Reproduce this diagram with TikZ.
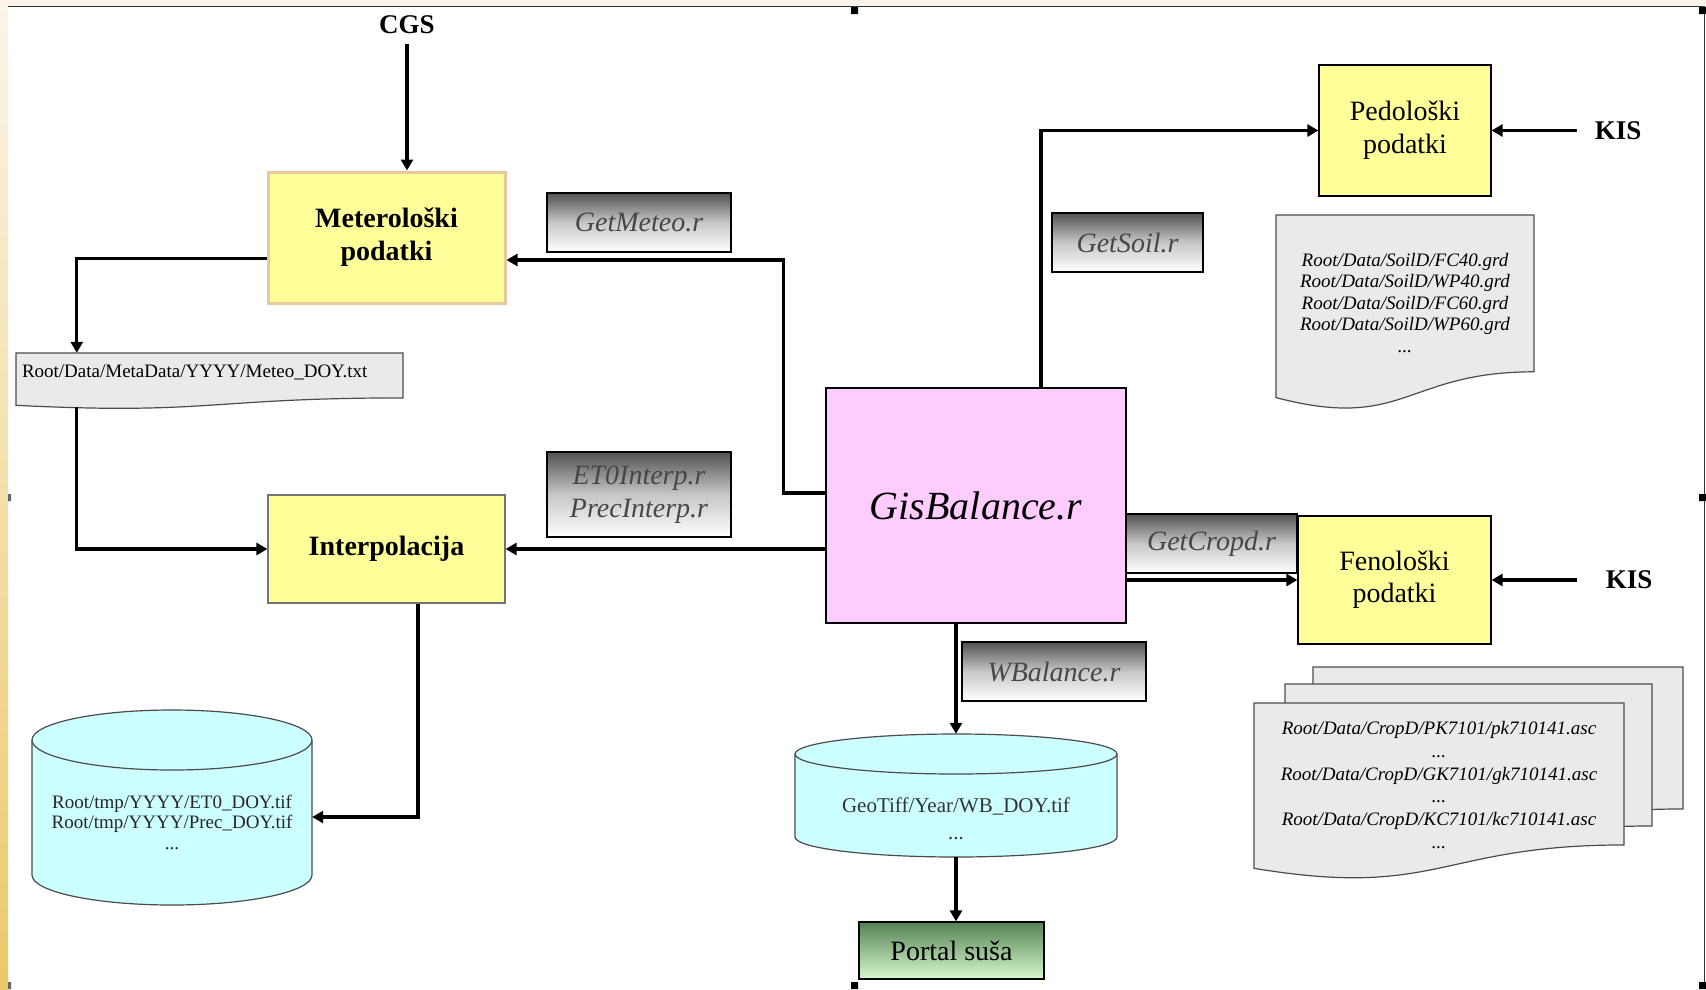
\documentclass[tikz,border=0pt]{standalone}
\usepackage{fontspec}
\setmainfont{Liberation Serif}
\usepackage{tikz}
\usetikzlibrary{arrows.meta,positioning,calc}
\definecolor{boxyellow}{RGB}{255,255,153}
\definecolor{boxpink}{RGB}{255,204,255}
\definecolor{boxcyan}{RGB}{204,255,255}
\definecolor{docgray}{RGB}{234,234,234}
\definecolor{meteoborder}{RGB}{232,200,160}
\definecolor{portaldark}{RGB}{85,130,85}
\definecolor{portallight}{RGB}{215,250,205}
\definecolor{stripbeige}{RGB}{250,245,232}
\definecolor{stripgold}{RGB}{236,201,106}

\newcommand{\docshape}[4]{%
  \path[docline] (#1,#2) -- (#3,#2) -- (#3,{#2+0.802*(#4-#2)})
    .. controls ({(#1+#3)/2},{#2+0.802*(#4-#2)}) and ({(#1+#3)/2},{#2+1.1075*(#4-#2)})
    .. (#1,{#2+0.934*(#4-#2)}) -- cycle;}
\newcommand{\cylshape}[5]{%
  \path[cylline] ({#1-#4},{#2+#5}) -- ({#1-#4},{#3-#5})
    arc[start angle=180,end angle=360,x radius=#4pt,y radius=#5pt]
    -- ({#1+#4},{#2+#5}) arc[start angle=0,end angle=180,x radius=#4pt,y radius=#5pt] -- cycle;
  \draw[cylline,fill=none] ({#1-#4},{#2+#5}) arc[start angle=180,end angle=360,x radius=#4pt,y radius=#5pt];}

\begin{document}
\begin{tikzpicture}[x=1pt,y=-1pt,>={Triangle[length=11pt,width=12pt]}]
  \tikzstyle{ybox}=[rectangle,draw=black,line width=1.2pt,fill=boxyellow,align=center,inner sep=0pt,font=\fontsize{28}{33}\selectfont]
  \tikzstyle{script}=[rectangle,draw=black,line width=1.2pt,top color=black!68,bottom color=white,middle color=black!22,align=center,inner sep=0pt,text=black!72,font=\fontsize{28}{33}\selectfont\itshape]
  \tikzstyle{kis}=[inner ysep=0pt,inner xsep=18pt,font=\fontsize{27}{30}\selectfont\bfseries]
  \tikzstyle{conn}=[line width=3.2pt,->]
  \tikzstyle{docline}=[draw=black!70,line width=1.2pt,fill=docgray]
  \tikzstyle{cylline}=[draw=black!70,line width=1.2pt,fill=boxcyan]
  \tikzstyle{filetext}=[inner sep=0pt,align=center,font=\fontsize{19}{21.5}\selectfont\itshape]
  \tikzstyle{hidden}=[rectangle,draw=none,inner sep=0pt]

  \useasboundingbox (0,0) rectangle (1706,989);
  \fill[white] (0,0) rectangle (1706,989);
  \fill[stripbeige] (0,0) rectangle (1706,6);
  \shade[top color=stripbeige,bottom color=stripgold] (0,0) rectangle (8,989);
  \draw[black!80,line width=1.5pt] (8,6.5) -- (1704.5,6.5) -- (1704.5,989);
  \fill[black] (851,7) rectangle (858,14) (1699,7) rectangle (1706,14) (1699,494) rectangle (1706,501)
    (851,982) rectangle (858,989) (1699,982) rectangle (1706,989);
  \fill[black!60] (8,982) rectangle (11,989) (8,494) rectangle (11,501);

  \docshape{16}{353}{403}{409}
  \docshape{1276}{215}{1534}{410.5}
  \docshape{1313}{667}{1683}{844}
  \docshape{1285}{684}{1652}{861}
  \docshape{1254}{703}{1624}{880}
  \cylshape{172}{710}{905}{140}{30}
  \cylshape{956}{734}{857}{161}{20}

  \node[ybox,draw=meteoborder,line width=3pt,minimum width=237pt,minimum height=131pt,font=\fontsize{28}{33}\selectfont\bfseries] (meteo) at (386.5,237.5) {Meterološki\\podatki};
  \node[ybox,draw=black!55,minimum width=237pt,minimum height=108pt,font=\fontsize{28}{33}\selectfont\bfseries] (interp) at (386.5,549) {Interpolacija};
  \node[ybox,minimum width=172pt,minimum height=131pt] (pedo) at (1405,130.5) {Pedološki\\podatki};
  \node[ybox,minimum width=193pt,minimum height=128pt,font=\fontsize{28}{32}\selectfont] (feno) at (1394.5,580) {Fenološki\\podatki};
  \node[rectangle,draw=black,line width=1.2pt,fill=boxpink,minimum width=300pt,minimum height=235pt,font=\fontsize{40}{48}\selectfont\itshape] (gis) at (976,505.5) {GisBalance.r};

  \node[script,minimum width=184pt,minimum height=59pt] (getmeteo) at (639,222.5) {GetMeteo.r};
  \node[script,minimum width=184pt,minimum height=85pt] (interpr) at (639,494.5) {ET0Interp.r\\PrecInterp.r};
  \node[script,minimum width=151pt,minimum height=59pt] (getsoil) at (1127.5,242.5) {GetSoil.r};
  \node[script,minimum width=171pt,minimum height=59pt] (getcropd) at (1211.5,543.5) {GetCropd.r};
  \node[script,minimum width=184pt,minimum height=59pt] (wbalance) at (1054,671.5) {WBalance.r};
  \node[rectangle,draw=black,line width=1.2pt,top color=portaldark,bottom color=portallight,minimum width=185pt,minimum height=57pt,inner sep=0pt,font=\fontsize{28}{32}\selectfont] (portal) at (951.5,950.5) {Portal suša};

  \node[inner sep=10pt,font=\fontsize{27}{30}\selectfont\bfseries] (cgs) at (407,25) {CGS};
  \node[kis,right=85pt of pedo] (kispedo) {KIS};
  \node[kis,inner xsep=29pt,right=85pt of feno] (kisfeno) {KIS};

  \node[hidden,minimum width=387pt,minimum height=56pt,
    label={[filetext,font=\fontsize{19}{21}\selectfont,text width=375pt,align=left,yshift=9pt]center:Root/Data/MetaData/YYYY/Meteo\_DOY.txt}] (metfile) at (209.5,381) {};
  \node[hidden,minimum width=258pt,minimum height=195.5pt,
    label={[filetext,yshift=10pt]center:{Root/Data/SoilD/FC40.grd\\Root/Data/SoilD/WP40.grd\\Root/Data/SoilD/FC60.grd\\Root/Data/SoilD/WP60.grd\\...}}] (soilfile) at (1405,312.75) {};
  \node[hidden,minimum width=370pt,minimum height=177pt,
    label={[filetext,font=\fontsize{19}{22.8}\selectfont\itshape,yshift=6.5pt]center:{Root/Data/CropD/PK7101/pk710141.asc\\...\\Root/Data/CropD/GK7101/gk710141.asc\\...\\Root/Data/CropD/KC7101/kc710141.asc\\...}}] (cropfile) at (1439,791.5) {};
  \node[hidden,minimum width=280pt,minimum height=195pt,
    label={[filetext,font=\fontsize{19}{20.5}\selectfont,text=black!85,yshift=-14.5pt]center:{Root/tmp/YYYY/ET0\_DOY.tif\\Root/tmp/YYYY/Prec\_DOY.tif\\...}}] (db1) at (172,807.5) {};
  \node[hidden,minimum width=322pt,minimum height=123pt,
    label={[filetext,font=\fontsize{21}{27}\selectfont,text=black!80,yshift=-23pt]center:{GeoTiff/Year/WB\_DOY.tif\\...}}] (db2) at (956,795.5) {};

  \draw[conn] (cgs.south) -- (cgs.south |- meteo.north);
  \draw[conn] ([yshift=-21pt]meteo.west) -| ([xshift=61pt]metfile.north west);
  \draw[conn] ([xshift=61pt,yshift=2pt]metfile.south west) |- (interp.west);
  \draw[conn] ([yshift=12.5pt]gis.west) -- ++(-42pt,0) |- ([yshift=-22.5pt]meteo.east);
  \draw[conn] (gis.west |- interp.east) -- (interp.east);
  \draw[conn] ([xshift=31.5pt]interp.south) |- ([yshift=-9.5pt]db1.east);
  \draw[conn] ([xshift=65pt]gis.north) |- (pedo.west);
  \draw[conn] (gis.east |- feno.west) -- (feno.west);
  \draw[conn] (kispedo.west) -- (pedo.east);
  \draw[conn] (kisfeno.west) -- (feno.east);
  \draw[conn] (gis.south -| db2.north) -- (db2.north);
  \draw[conn] (db2.south) -- (db2.south |- portal.north);
\end{tikzpicture}
\end{document}
